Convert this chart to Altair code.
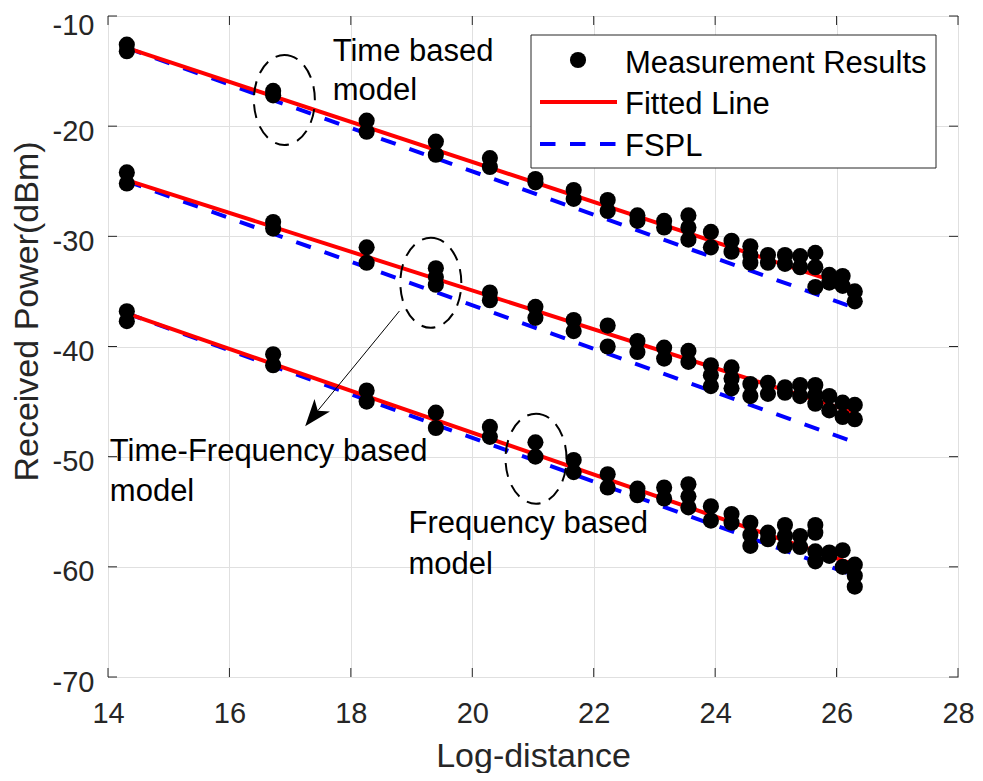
import altair as alt
import pandas as pd

# ---------------- data ----------------
log_distance = [14.31, 16.72, 18.26, 19.40, 20.29, 21.04, 21.67, 22.23, 22.72, 23.16, 23.56,
                23.93, 24.27, 24.58, 24.87, 25.15, 25.40, 25.65, 25.88, 26.10, 26.30]

time_based = [
    [-12.6, -13.2], [-16.8, -17.2], [-19.5, -20.5], [-21.4, -22.6], [-22.9, -23.7],
    [-24.8, -25.1], [-25.8, -26.6], [-26.7, -27.7], [-28.1, -28.6], [-28.6, -29.2],
    [-28.1, -29.2, -30.3], [-29.6, -31.0], [-30.4, -31.4], [-30.9, -31.7, -32.4],
    [-31.7, -32.4], [-31.7, -32.5], [-31.8, -32.8], [-31.5, -32.8, -34.6],
    [-33.5, -34.2], [-33.6, -34.5], [-35.0, -35.9],
]
time_frequency_based = [
    [-24.2, -25.2], [-28.7, -29.3], [-31.0, -32.4], [-32.9, -33.7, -34.4], [-35.1, -35.8],
    [-36.4, -37.4], [-37.6, -38.6], [-38.1, -40.0], [-39.5, -40.5], [-40.1, -41.1],
    [-40.4, -41.4], [-41.7, -42.6, -43.6], [-41.9, -42.9, -43.8], [-43.4, -44.5],
    [-43.3, -44.3], [-43.7, -44.2], [-43.5, -44.5], [-43.5, -44.4, -45.2],
    [-44.5, -45.8], [-45.1, -46.4], [-45.3, -46.6],
]
frequency_based = [
    [-36.8, -37.7], [-40.7, -41.7], [-44.0, -45.0], [-46.0, -47.4], [-47.3, -48.2],
    [-48.7, -50.0], [-50.3, -51.4], [-51.6, -52.8], [-52.9, -53.5], [-52.8, -53.8],
    [-52.5, -53.6, -54.6], [-54.5, -55.8], [-55.2, -56.0], [-56.0, -57.1, -58.1],
    [-56.9, -57.5], [-56.2, -57.2, -58.1], [-57.2, -58.2], [-56.2, -56.9, -58.6, -59.5],
    [-58.7, -59.0], [-58.5, -60.0], [-59.8, -60.8, -61.8],
]

line_x = [14.31, 26.30]
fitted_time = [-12.9, -34.7]
fitted_time_frequency = [-24.9, -46.0]
fitted_frequency = [-37.0, -59.8]
fspl_time = [-12.9, -36.5]
fspl_time_frequency = [-25.0, -48.7]
fspl_frequency = [-37.0, -60.8]

x_ticks = [14, 16, 18, 20, 22, 24, 26, 28]
y_ticks = [-70, -60, -50, -40, -30, -20, -10]

legend_labels = ["Measurement Results", "Fitted Line", "FSPL"]

annotation_text = ["Time based", "model", "Time-Frequency based", "model",
                   "Frequency based", "model"]
annotation_x = [17.70, 17.70, 14.03, 14.03, 18.95, 18.95]
annotation_y = [-14.04, -17.62, -50.42, -54.03, -56.92, -60.62]

ellipse_x = [16.905, 19.317, 21.05]
ellipse_y = [-17.62, -34.22, -50.18]

arrow_from = [18.80, -36.78]
arrow_to = [17.388, -46.28]

# ---------------- tables ----------------
rows = []
for name, groups in [("time", time_based), ("tf", time_frequency_based), ("freq", frequency_based)]:
    for xv, vals in zip(log_distance, groups):
        for v in vals:
            rows.append({"x": xv, "y": v, "g": name})
points_df = pd.DataFrame(rows)

def lines_df(series):
    out = []
    for name, ys in series:
        for xv, yv in zip(line_x, ys):
            out.append({"x": xv, "y": yv, "g": name})
    return pd.DataFrame(out)

fitted_df = lines_df([("time", fitted_time), ("tf", fitted_time_frequency), ("freq", fitted_frequency)])
fspl_df = lines_df([("time", fspl_time), ("tf", fspl_time_frequency), ("freq", fspl_frequency)])
ann_df = pd.DataFrame({"x": annotation_x, "y": annotation_y, "t": annotation_text})
ell_df = pd.DataFrame({"x": ellipse_x, "y": ellipse_y})
arrow_df = pd.DataFrame({"x": [arrow_from[0]], "y": [arrow_from[1]],
                         "x2": [arrow_to[0]], "y2": [arrow_to[1]]})
head_df = pd.DataFrame({"x": [arrow_to[0]], "y": [arrow_to[1]]})
xt_df = pd.DataFrame({"x": x_ticks})
yt_df = pd.DataFrame({"y": y_ticks})
one = alt.InlineData(values=[{}])

# ---------------- style ----------------
W, H = 850, 661
FONT = "Liberation Sans"
AX = "#262626"
x_scale = alt.Scale(domain=[14, 28], nice=False, zero=False)
y_scale = alt.Scale(domain=[-70, -10], nice=False, zero=False)

x_axis = alt.Axis(values=x_ticks, title="Log-distance", grid=True, gridColor="#e0e0e0",
                  ticks=False, tickSize=0, domain=False, labelFont=FONT, labelFontSize=29,
                  labelColor=AX, labelPadding=22, labelFlush=False, labelOverlap=False,
                  labelExpr="toString(datum.value)",
                  titleFont=FONT, titleFontSize=34, titleFontWeight="normal", titleColor=AX,
                  titleBaseline="alphabetic", titleX=W / 2, titleY=89)
y_axis = alt.Axis(values=y_ticks, title="Received Power(dBm)", grid=True, gridColor="#e0e0e0",
                  ticks=False, tickSize=0, domain=False, labelFont=FONT, labelFontSize=29,
                  labelColor=AX, labelPadding=14, labelFlush=False, labelOverlap=False,
                  labelOffset=alt.condition("datum.value == -10", alt.value(9), alt.value(5)),
                  labelExpr="toString(datum.value)",
                  titleFont=FONT, titleFontSize=34, titleFontWeight="normal", titleColor=AX,
                  titleAngle=270, titleBaseline="middle", titleAlign="center",
                  titleX=-81, titleY=295)

X = lambda: alt.X("x:Q", scale=x_scale, axis=x_axis)
Y = lambda: alt.Y("y:Q", scale=y_scale, axis=y_axis)
X2 = lambda: alt.X2("x2:Q")
Y2 = lambda: alt.Y2("y2:Q")

layers = []

# FSPL dashed lines
layers.append(alt.Chart(fspl_df).mark_line(color="#0000ff", strokeWidth=4, strokeDash=[15.5, 14.5])
              .encode(x=X(), y=Y(), detail="g:N"))
# fitted lines
layers.append(alt.Chart(fitted_df).mark_line(color="#ff0000", strokeWidth=4)
              .encode(x=X(), y=Y(), detail="g:N"))
# measurement points
layers.append(alt.Chart(points_df).mark_circle(size=260, color="black", opacity=1)
              .encode(x=X(), y=Y()))

# inward ticks on all four sides
tick_style = dict(color=AX, strokeWidth=1)
layers.append(alt.Chart(xt_df).mark_rule(**tick_style).encode(x=X(), y=alt.value(H), y2=alt.value(H - 9)))
layers.append(alt.Chart(xt_df).mark_rule(**tick_style).encode(x=X(), y=alt.value(0), y2=alt.value(9)))
layers.append(alt.Chart(yt_df).mark_rule(**tick_style).encode(y=Y(), x=alt.value(0), x2=alt.value(9)))
layers.append(alt.Chart(yt_df).mark_rule(**tick_style).encode(y=Y(), x=alt.value(W), x2=alt.value(W - 9)))

# dashed ellipses
ellipse_path = ("M 0 -1.475 C 0.5523 -1.475 1 -0.8147 1 0 C 1 0.8147 0.5523 1.475 0 1.475 "
                "C -0.5523 1.475 -1 0.8147 -1 0 C -1 -0.8147 -0.5523 -1.475 0 -1.475 Z")
layers.append(alt.Chart(ell_df).mark_point(shape=ellipse_path, size=3721, filled=False,
                                           color="black", strokeWidth=2, strokeDash=[14, 9],
                                           opacity=1)
              .encode(x=X(), y=Y()))

# arrow
layers.append(alt.Chart(arrow_df).mark_rule(color="black", strokeWidth=1)
              .encode(x=X(), y=Y(), x2=X2(), y2=Y2()))
head_path = "M 0 -1 L 0.74 1 L 0 0.48 L -0.74 1 Z"
layers.append(alt.Chart(head_df).mark_point(shape=head_path, size=729, filled=True, color="black",
                                            opacity=1, angle=219.2, strokeWidth=0)
              .encode(x=X(), y=Y()))

# annotation texts
layers.append(alt.Chart(ann_df).mark_text(align="left", baseline="alphabetic", font=FONT,
                                          fontSize=31, color="black")
              .encode(x=X(), y=Y(), text="t:N"))

# legend
layers.append(alt.Chart(one).mark_rect(fill="white", stroke=AX, strokeWidth=1)
              .encode(x=alt.value(423), x2=alt.value(828), y=alt.value(19), y2=alt.value(152)))
layers.append(alt.Chart(one).mark_circle(size=260, color="black", opacity=1)
              .encode(x=alt.value(470), y=alt.value(44)))
layers.append(alt.Chart(one).mark_rule(color="#ff0000", strokeWidth=4)
              .encode(x=alt.value(432), x2=alt.value(509), y=alt.value(86)))
layers.append(alt.Chart(one).mark_rule(color="#0000ff", strokeWidth=4, strokeDash=[15.5, 14.5])
              .encode(x=alt.value(432), x2=alt.value(509), y=alt.value(128)))
for i, lab in enumerate(legend_labels):
    layers.append(alt.Chart(one).mark_text(align="left", baseline="alphabetic", font=FONT,
                                           fontSize=31, color="black")
                  .encode(x=alt.value(517), y=alt.value(56.7 + 41.6 * i), text=alt.value(lab)))

chart = (alt.layer(*layers)
         .properties(width=W, height=H, autosize=alt.AutoSizeParams(type="none"),
                     padding={"left": 100, "top": 8, "right": 17, "bottom": 96},
                     background="white")
         .configure_view(stroke=AX, strokeWidth=1))

chart.save("out.html", embed_options={"renderer": "svg", "actions": False})
